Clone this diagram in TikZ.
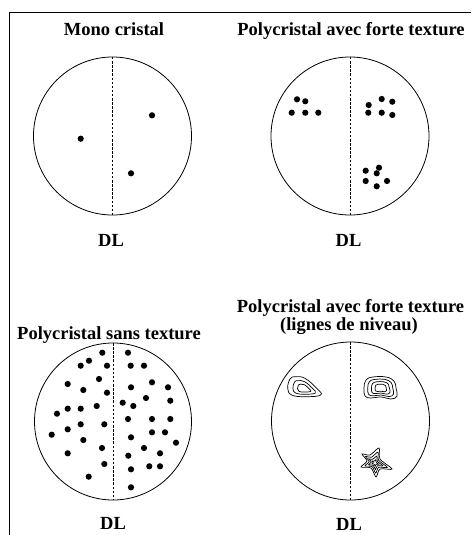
\documentclass[tikz,border=0pt]{standalone}
\usepackage{fontspec}
\setmainfont{Liberation Serif}
\begin{document}
\begin{tikzpicture}[x=1pt,y=-1pt,
  pole/.style={draw, circle, inner sep=0pt, outer sep=0pt, line width=0.8pt},
  ttl/.style={font=\bfseries\fontsize{18.5}{17.3}\selectfont, anchor=base, inner sep=0pt},
  axisline/.style={line width=0.7pt, dash pattern=on 2.5pt off 1.6pt},
  contour/.style={line width=0.7pt},
  dotr/.style={radius=3.1pt}]
\useasboundingbox (0,0) rectangle (471,535);
% frame
\draw[line width=1.2pt] (9.5,535) -- (9.5,12.7) -- (471,12.7);

% titles
\node[ttl] (t1) at (114,36) {Mono cristal};
\node[ttl] (t2) at (351,36) {Polycristal avec forte texture};
\node[ttl] (t3) at (109,339) {Polycristal sans texture};
\node[ttl] (t4a) at (350.5,312.7) {Polycristal avec forte texture};
\node[ttl] (t4b) at (349,330) {(lignes de niveau)};

% circles
\node[pole, minimum size=158pt] (c1) at (112.5,136) {};
\node[pole, minimum size=158pt] (c2) at (350,136) {};
\node[pole, minimum size=157pt] (c3) at (113,421.5) {};
\node[pole, minimum size=158pt] (c4) at (350.5,421) {};

\foreach \c in {c1,c2,c3,c4} \draw[axisline] (\c.north) -- (\c.south);

% DL labels
\node[ttl] (dl1) at (111,246) {DL};
\node[ttl] (dl2) at (348.5,246) {DL};
\node[ttl] (dl3) at (113,529) {DL};
\node[ttl] (dl4) at (349,530) {DL};

% circle 1 dots
\foreach \p in {(80.7,138.7),(152,115.3),(131,173.3)}
  \fill \p circle[dotr];

% circle 2 dots
\foreach \p in {(297,99.3),(305.3,101.3),(291.7,112.7),(305.3,112.7),(318.3,112.7),
  (381.7,99),(392.3,101.7),(368.7,105),(368.3,112.7),(381.7,112.7),(392.3,115),
  (379,167.7),(365.7,170.7),(376.7,173.3),(365.7,181),(387,181),(376.7,186.3)}
  \fill \p circle[dotr];

% circle 3 dots
\foreach \p in {(102.3,352.7),(128,352.7),(89,360.7),(80.7,365.7),(107,365.7),(130.7,365.7),
  (144,365.7),(99,379),(67.7,384),(152,382.3),(83.3,390),(131,387.3),(168,387.3),
  (107,392.7),(146,398),(170.3,400.7),(122.7,402.7),(133.3,406),(96.7,406),(80.7,408.7),
  (67.7,408.7),(57,413.7),(128,419),(152,419),(170.3,419),(80.7,424.3),(104.3,424.3),
  (67.7,429.3),(152,432.3),(165,432.3),(51.7,434.7),(131,437.3),(176,442.7),(83.3,440),
  (144,448),(102,448),(160,453.3),(67.7,453.3),(128.3,455.7),(104.3,464),(149.3,466.3),
  (160,466.3),(131,469.3),(88.7,476.7),(131,487.3)}
  \fill \p circle[dotr];

% circle 4 contour blobs
\begin{scope}[shift={(304,389)}]
  \foreach \s in {1,0.68,0.4}
    \draw[contour, scale=\s] plot[smooth cycle, tension=0.7] coordinates
      {(-14,-10) (-9,-12.3) (1,-10.7) (12.7,-0.7) (16.7,6) (1,7.7) (-12.3,6) (-16.3,-0.7)};
\end{scope}
\begin{scope}[shift={(381,388)}]
  \foreach \s in {1,0.78,0.56,0.35}
    \draw[contour, scale=\s] plot[smooth cycle, tension=0.7] coordinates
      {(-15,-8) (-8,-11) (5,-11) (13,-7) (15,0) (16,8) (10,11) (0,9) (-10,10) (-16,8) (-17,0)};
\end{scope}
\begin{scope}[shift={(375,463)}]
  \foreach \s in {1,0.72,0.46,0.22}
    \draw[contour, scale=\s] plot[smooth cycle, tension=0.5] coordinates
      {(-13,-9) (-5,-8) (4,-15) (5,-4) (17,6) (5,6) (1,14) (-4,5) (-14,4) (-8,-2)};
\end{scope}
\end{tikzpicture}
\end{document}
